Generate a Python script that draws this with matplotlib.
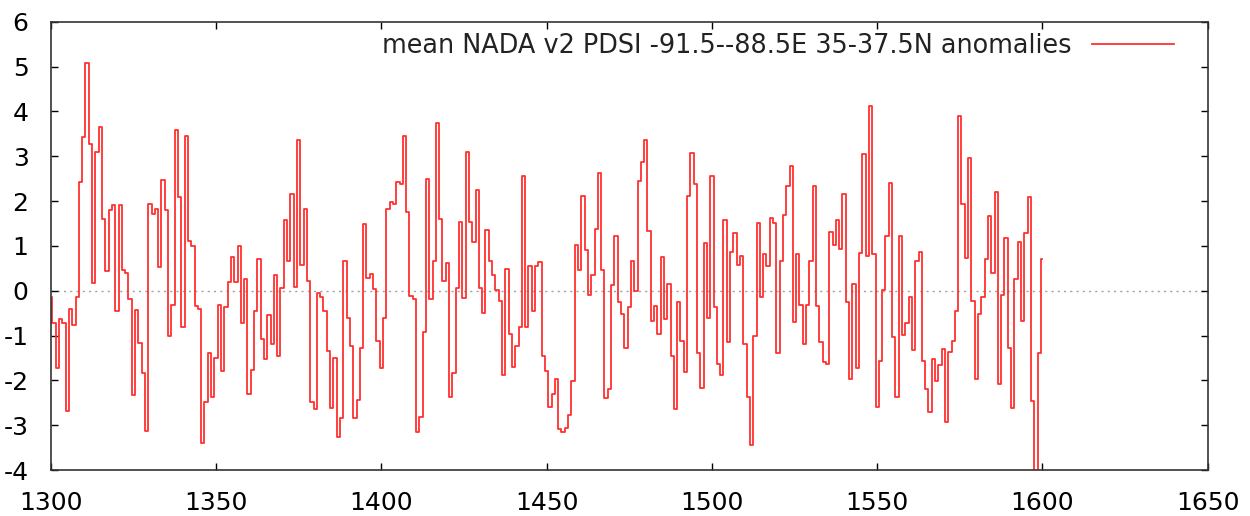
import numpy as np
import matplotlib
matplotlib.use("Agg")
import matplotlib.pyplot as plt

## donnees (une valeur par annee, a partir de 1300)
first_year = 1300

pdsi_1300s = [-0.15, -0.73, -1.72, -0.64, -0.73, -2.69, -0.4, -0.76, -0.13, 2.43,
              3.42, 5.08, 3.27, 0.17, 3.09, 3.65, 1.6, 0.43, 1.79, 1.9,
              -0.45, 1.9, 0.46, 0.39, -0.19, -2.33, -0.43, -1.16, -1.83, -3.12,
              1.94, 1.72, 1.83, 0.52, 2.47, 1.79, -1.01, -0.32, 3.59, 2.09,
              -0.81, 3.46, 1.1, 1.0, -0.35, -0.41, -3.39, -2.48, -1.4, -2.37,
              -1.51, -0.32, -1.79]

pdsi_1350s = [-0.36, 0.19, 0.76, 0.2, 0.99, -0.73, 0.26, -2.3, -1.76, -0.45,
              0.71, -1.07, -1.53, -0.54, -1.18, 0.35, -1.46, 0.06, 1.57, 0.67,
              2.15, 0.09, 3.35, 0.58, 1.83, 0.22, -2.48, -2.65, -0.05, -0.15,
              -0.45, -1.35, -2.62, -1.51, -3.27, -2.85, 0.67, -0.61, -1.23, -2.85,
              -2.43, -1.27, 1.48, 0.28, 0.37, 0.04, -1.12, -1.73, -0.6, 1.83]

pdsi_1400s = [1.97, 1.94, 2.43, 2.38, 3.46, 1.76, -0.11, -0.19, -3.16, -2.82,
              -0.93, 2.5, -0.19, 0.67, 3.75, 1.59, 0.22, 0.61, -2.37, -1.83,
              0.06, 1.53, -0.16, 3.1, 1.53, 1.08, 2.24, 0.06, -0.49, 1.35,
              0.66, 0.34, 0.01, -0.22, -1.88, 0.49, -0.97, -1.7, -1.23, -0.81,
              2.56, -0.81, 0.56, -0.45, 0.56, 0.65, -1.46, -1.79, -2.59]

pdsi_1450s = [-2.3, -1.96, -3.09, -3.15, -3.06, -2.78, -2.02, 1.02, 0.46, 2.11,
              0.9, -0.09, 0.35, 1.37, 2.63, 0.46, -2.39, -2.2, 0.13, 1.21,
              -0.26, -0.51, -1.27, -0.37, 0.67, -0.01, 2.45, 2.88, 3.36, 1.33,
              -0.67, -0.34, -0.97, 0.76, -0.64, 0.15, -1.46, -2.65, -0.26, -1.12,
              -1.82, 2.12, 3.06, 2.39, -1.4, -2.18]

pdsi_1500s = [1.06, -0.61, 2.56, -0.37, -1.64, -1.87, 1.57, -1.14, 0.86, 1.29,
              0.58, 0.78, -1.18, -2.38, -3.45, -1.02, 1.51, -0.13, 0.81, 0.55,
              1.61, 1.51, -1.4, 0.66, 1.68, 2.34, 2.79, -0.7, 0.82, -0.32,
              -1.18, -0.32, 0.66, 2.34, -0.35, -1.14, -1.58, -1.64, 1.32, 1.03,
              1.57, 0.93, 2.15, -0.26, -1.98, 0.16, -1.73, 0.84, 3.05, 0.78]

pdsi_1550s = [4.11, 0.82, -2.59, -1.57, 0.01, 1.21, 2.41, -1.03, -2.38, 1.21,
              -0.99, -0.71, -0.13, -1.33, 0.67, 0.86, -1.57, -2.2, -2.71, -1.53,
              -2.02, -1.66, -1.31, -2.94, -1.37, -1.12, -0.45, 3.9, 1.93, 0.73,
              2.97, -0.24, -1.98, -0.51, -0.15, 0.71, 1.67, 0.39, 2.2, -2.09,
              -0.09, 1.18, -1.27, -2.62, 0.26, 1.08, -0.67, 1.29, 2.09, -2.45,
              -4.6, -1.38, 0.71]

label = "mean NADA v2 PDSI -91.5--88.5E 35-37.5N anomalies"
xticks = [1300, 1350, 1400, 1450, 1500, 1550, 1600, 1650]
yticks = [-4, -3, -2, -1, 0, 1, 2, 3, 4, 5, 6]

pdsi = pdsi_1300s + pdsi_1350s + pdsi_1400s + pdsi_1450s + pdsi_1500s + pdsi_1550s
years = np.arange(first_year, first_year + len(pdsi))

# tiret simple pour les nombres negatifs, comme gnuplot
plt.rcParams["axes.unicode_minus"] = False

fig = plt.figure(figsize=(12.5, 5.16), dpi=100)
ax = fig.add_axes([0.0406, 0.0891, 0.9256, 0.8689])

# ligne du zero en pointilles (style gnuplot)
ax.axhline(0, color="#a0a0a0", lw=1.0, ls=(0, (1.5, 3)), zorder=1)
ax.plot(years, pdsi, drawstyle="steps-mid", color="#ff3030", lw=1.3,
        label=label, zorder=2)

ax.set_xlim(1300, 1650)
ax.set_ylim(-4, 6)
ax.set_xticks(xticks)
ax.set_yticks(yticks)
ax.tick_params(direction="in", length=5, width=1, top=True, right=True,
               labelsize=18, colors="black")
ax.tick_params(axis="x", pad=15)
ax.tick_params(axis="y", pad=16)
for s in ax.spines.values():
    s.set_linewidth(1.2)
    s.set_color("#333333")

leg = ax.legend(loc="upper right", frameon=False, fontsize=18.4,
                handlelength=3.2, handletextpad=0.8, markerfirst=False,
                borderpad=0, borderaxespad=0,
                bbox_to_anchor=(0.971, 0.975))
for t in leg.get_texts():
    t.set_color("#222222")

plt.savefig("out.png", dpi=100)
